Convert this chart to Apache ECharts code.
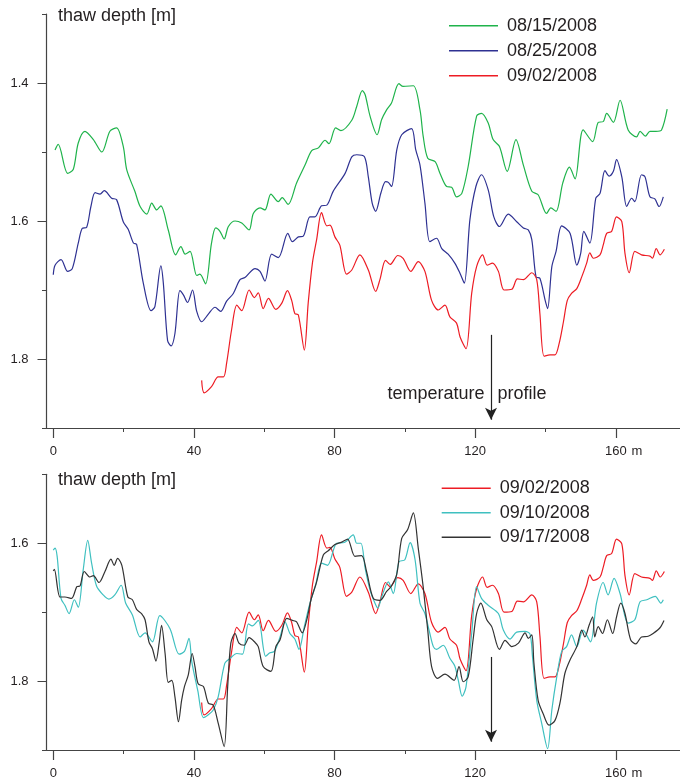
<!DOCTYPE html>
<html>
<head>
<meta charset="utf-8">
<script src="https://cdn.jsdelivr.net/npm/echarts@6/dist/echarts.min.js"></script>
<style>html,body{margin:0;padding:0;background:#fff}#c{width:680px;height:782px}</style>
</head>
<body>
<div id="c"></div>
<script>
// ---- data: [distance (m), thaw depth (m)] ----
const aug15 = [[0.5,1.497],[1.4,1.489],[4.1,1.531],[5.7,1.525],[7.1,1.487],[9.0,1.470],[11.4,1.482],[13.8,1.500],[16.1,1.470],[18.0,1.465],[19.9,1.492],[20.9,1.526],[23.2,1.557],[24.7,1.579],[26.6,1.590],[28.0,1.574],[29.4,1.584],[30.6,1.578],[32.7,1.613],[34.8,1.649],[36.3,1.637],[37.5,1.648],[38.9,1.644],[40.8,1.679],[41.7,1.677],[43.3,1.691],[45.0,1.632],[46.2,1.610],[47.4,1.615],[48.6,1.626],[49.8,1.608],[51.7,1.600],[53.6,1.603],[55.7,1.613],[56.9,1.589],[58.8,1.581],[60.2,1.584],[61.9,1.561],[64.0,1.572],[65.1,1.566],[66.8,1.576],[69.2,1.545],[71.6,1.519],[73.5,1.498],[75.4,1.494],[77.3,1.483],[78.4,1.488],[80.3,1.465],[81.8,1.469],[84.9,1.454],[86.3,1.434],[87.9,1.411],[88.7,1.417],[90.1,1.448],[92.1,1.475],[93.4,1.453],[94.8,1.439],[96.2,1.429],[98.3,1.401],[99.5,1.405],[102.4,1.404],[104.3,1.439],[105.2,1.477],[106.5,1.509],[108.6,1.514],[110.0,1.531],[111.9,1.550],[113.3,1.551],[114.7,1.565],[116.2,1.560],[118.0,1.521],[120.4,1.448],[121.8,1.444],[123.7,1.458],[125.1,1.482],[126.9,1.492],[129.1,1.528],[131.6,1.482],[133.7,1.519],[136.1,1.557],[137.9,1.562],[140.3,1.589],[141.5,1.581],[143.0,1.586],[144.9,1.545],[146.8,1.522],[148.4,1.539],[150.7,1.468],[153.4,1.485],[155.0,1.457],[156.4,1.456],[157.4,1.444],[159.3,1.457],[161.2,1.425],[163.5,1.468],[165.9,1.478],[166.9,1.470],[168.4,1.477],[169.7,1.470],[171.4,1.470],[173.0,1.468],[174.6,1.438]];
const aug25 = [[0,1.678],[0.5,1.664],[2.2,1.656],[4.1,1.673],[5.4,1.669],[7.1,1.632],[8.2,1.611],[9.5,1.609],[10.7,1.579],[11.9,1.559],[13.3,1.561],[14.5,1.556],[16.6,1.567],[18.0,1.569],[19.9,1.601],[21.3,1.612],[22.8,1.632],[23.7,1.634],[25.6,1.690],[27.8,1.730],[28.9,1.724],[30.6,1.665],[31.3,1.690],[32.5,1.773],[33.5,1.781],[34.6,1.763],[36.0,1.701],[37.0,1.707],[38.2,1.718],[39.6,1.700],[40.8,1.731],[42.2,1.746],[44.1,1.735],[46.0,1.725],[47.6,1.731],[49.3,1.716],[51.2,1.705],[53.1,1.685],[54.5,1.682],[57.4,1.669],[58.8,1.673],[60.2,1.687],[62.1,1.648],[64.0,1.653],[66.7,1.618],[68.0,1.630],[69.7,1.623],[71.1,1.622],[73.0,1.594],[74.4,1.594],[76.3,1.578],[77.8,1.577],[79.6,1.557],[83.0,1.531],[84.9,1.507],[86.3,1.504],[88.5,1.507],[89.6,1.536],[90.7,1.574],[91.7,1.586],[93.2,1.559],[94.5,1.543],[95.3,1.544],[96.2,1.550],[97.7,1.497],[99.1,1.475],[101.9,1.466],[103.1,1.497],[104.3,1.519],[105.7,1.574],[107.1,1.630],[109.0,1.625],[110.5,1.640],[112.3,1.648],[114.2,1.661],[115.7,1.676],[116.9,1.690],[118.5,1.598],[120.2,1.550],[121.8,1.533],[123.7,1.555],[125.3,1.594],[126.9,1.608],[129.4,1.590],[131.8,1.601],[133.7,1.610],[135.1,1.613],[136.1,1.627],[137.3,1.681],[138.4,1.683],[139.9,1.715],[140.6,1.727],[141.8,1.666],[143.0,1.644],[144.6,1.607],[147.0,1.618],[148.9,1.664],[150.0,1.647],[150.9,1.615],[152.6,1.632],[154.3,1.567],[155.5,1.560],[156.9,1.527],[158.1,1.535],[159.3,1.528],[160.2,1.511],[161.7,1.536],[163.1,1.579],[164.5,1.567],[165.4,1.572],[167.3,1.533],[168.3,1.536],[169.7,1.565],[171.1,1.568],[172.3,1.579],[173.5,1.565]];
const sep02 = [[42.2,1.831],[42.9,1.849],[45.0,1.840],[46.9,1.826],[48.4,1.826],[49.3,1.806],[50.7,1.758],[52.2,1.722],[53.6,1.730],[55.7,1.700],[57.2,1.711],[58.3,1.704],[59.7,1.727],[61.2,1.712],[63.3,1.728],[65.0,1.719],[66.6,1.701],[67.8,1.715],[68.7,1.734],[69.7,1.736],[71.4,1.787],[72.5,1.719],[73.7,1.661],[74.9,1.627],[76.3,1.588],[77.8,1.607],[78.7,1.606],[80.1,1.623],[81.5,1.635],[83.4,1.677],[84.9,1.671],[87.2,1.649],[89.6,1.671],[91.7,1.702],[92.9,1.685],[94.5,1.657],[95.8,1.663],[98.0,1.650],[99.5,1.654],[101.7,1.673],[103.8,1.659],[105.7,1.673],[107.6,1.715],[109.5,1.729],[111.4,1.722],[112.8,1.739],[114.7,1.748],[115.7,1.768],[117.4,1.785],[119.0,1.705],[120.4,1.666],[122.1,1.649],[123.4,1.664],[124.9,1.661],[126.6,1.673],[128.2,1.700],[130.4,1.699],[132.0,1.684],[133.7,1.685],[136.1,1.675],[137.5,1.685],[138.4,1.734],[139.6,1.796],[141.3,1.794],[142.7,1.794],[143.9,1.777],[145.1,1.746],[146.2,1.715],[147.4,1.705],[148.9,1.698],[150.3,1.681],[151.7,1.661],[152.6,1.646],[153.6,1.654],[155.5,1.649],[156.4,1.635],[157.4,1.618],[158.8,1.615],[160.2,1.594],[161.7,1.601],[162.6,1.647],[163.8,1.675],[165.4,1.644],[167.3,1.649],[169.7,1.651],[170.4,1.654],[171.5,1.640],[172.6,1.649],[173.8,1.641]];
const sep10 = [[0,1.610],[0.5,1.607],[1.1,1.619],[2.2,1.680],[3.3,1.690],[4.5,1.702],[6.0,1.682],[7.1,1.693],[8.5,1.639],[9.8,1.596],[10.9,1.629],[12.3,1.662],[14.2,1.675],[15.8,1.681],[17.5,1.675],[19.3,1.661],[20.6,1.687],[22.5,1.704],[24.7,1.736],[26.1,1.730],[28.2,1.743],[30.3,1.705],[33.2,1.724],[35.8,1.761],[37.3,1.757],[38.6,1.738],[39.4,1.772],[41.1,1.814],[42.7,1.853],[44.1,1.849],[45.5,1.842],[46.9,1.823],[48.8,1.774],[50.3,1.767],[52.2,1.760],[53.8,1.761],[55.5,1.717],[56.6,1.720],[58.3,1.712],[60.4,1.764],[61.6,1.759],[62.9,1.757],[64.5,1.736],[65.9,1.714],[67.3,1.731],[68.7,1.739],[69.9,1.754],[71.4,1.721],[73.0,1.687],[74.6,1.661],[76.3,1.629],[78.0,1.632],[80.6,1.600],[82.8,1.599],[85.3,1.588],[86.3,1.600],[87.5,1.600],[88.7,1.636],[90.1,1.668],[91.5,1.687],[92.3,1.694],[93.4,1.678],[95.3,1.656],[96.7,1.673],[98.3,1.627],[100.0,1.624],[101.5,1.599],[102.9,1.624],[104.3,1.687],[105.7,1.702],[107.1,1.731],[108.1,1.750],[109.0,1.754],[110.9,1.748],[112.8,1.767],[114.2,1.778],[115.2,1.799],[116.3,1.822],[117.4,1.808],[119.0,1.731],[120.4,1.663],[121.8,1.680],[123.7,1.690],[126.6,1.702],[128.0,1.726],[129.9,1.739],[131.8,1.729],[134.2,1.728],[135.6,1.732],[136.3,1.765],[137.5,1.828],[138.9,1.861],[140.6,1.898],[141.8,1.842],[143.2,1.794],[144.6,1.757],[146.0,1.750],[147.4,1.733],[148.9,1.750],[150.7,1.726],[152.8,1.743],[154.5,1.687],[156.4,1.657],[157.8,1.675],[159.5,1.651],[161.2,1.673],[163.5,1.716],[165.4,1.711],[166.9,1.685],[168.8,1.682],[171.2,1.677],[172.8,1.687],[173.5,1.682]];
const sep17 = [[0,1.640],[0.3,1.638],[1.9,1.678],[3.3,1.678],[5.2,1.680],[6.7,1.663],[7.6,1.662],[8.8,1.641],[10.4,1.649],[11.4,1.647],[13.0,1.657],[14.7,1.641],[16.4,1.623],[17.3,1.632],[18.3,1.622],[19.5,1.632],[21.2,1.678],[22.5,1.682],[23.7,1.696],[25.1,1.702],[26.1,1.711],[27.2,1.743],[28.2,1.753],[29.2,1.771],[30.1,1.745],[30.8,1.719],[31.8,1.760],[32.7,1.802],[33.7,1.799],[34.6,1.823],[35.6,1.859],[36.5,1.828],[37.3,1.808],[38.4,1.791],[39.5,1.760],[40.3,1.779],[41.2,1.804],[42.7,1.808],[44.1,1.832],[45.5,1.835],[46.9,1.861],[48.6,1.895],[49.6,1.808],[50.5,1.745],[51.7,1.731],[52.8,1.745],[54.3,1.748],[55.7,1.737],[57.4,1.744],[58.3,1.750],[59.7,1.779],[61.9,1.786],[63.3,1.750],[64.5,1.740],[66.4,1.709],[68.0,1.712],[69.2,1.714],[70.8,1.730],[72.1,1.711],[73.3,1.682],[74.9,1.656],[76.8,1.617],[78.2,1.611],[80.1,1.602],[82.2,1.598],[83.7,1.594],[85.8,1.619],[87.7,1.618],[89.1,1.641],[91.0,1.680],[92.9,1.683],[94.8,1.670],[96.2,1.662],[97.7,1.645],[99.1,1.593],[100.8,1.580],[102.4,1.556],[103.8,1.607],[105.2,1.663],[106.5,1.726],[107.6,1.779],[109.3,1.796],[111.4,1.790],[114.0,1.799],[115.4,1.779],[116.6,1.801],[118.0,1.794],[119.4,1.740],[120.4,1.702],[121.6,1.687],[123.3,1.711],[124.7,1.721],[126.9,1.754],[128.5,1.741],[130.4,1.750],[132.3,1.745],[134.2,1.730],[135.1,1.738],[136.1,1.733],[136.7,1.774],[137.9,1.828],[139.3,1.847],[141.0,1.864],[142.7,1.857],[144.1,1.832],[145.5,1.789],[146.9,1.770],[148.9,1.750],[150.3,1.726],[151.2,1.736],[152.4,1.719],[153.4,1.707],[154.0,1.736],[155.0,1.721],[156.2,1.731],[157.6,1.711],[159.1,1.731],[160.2,1.707],[161.4,1.687],[162.6,1.702],[164.2,1.740],[165.7,1.746],[167.3,1.736],[169.2,1.735],[170.6,1.731],[172.5,1.723],[173.7,1.712]];

const xMajorTicks = [0, 40, 80, 120, 160];
const xMinorTicks = [20, 60, 100, 140];
const xUnitAt = [166];
const yTopMajor = [1.4, 1.6, 1.8];
const yTopMinor = [1.3, 1.5, 1.7, 1.9];
const yBotMajor = [1.6, 1.8];
const yBotMinor = [1.5, 1.7, 1.9];
const PROFILE_X = 124.5;
const ARROW_FROM = 1.765, ARROW_TO = 1.888, PROFILE_TEXT_Y = 1.851;

const FONT = 'Liberation Sans, Arial, Helvetica, sans-serif';
const TXT = '#231f20';
const AX = '#444';
const C = {aug15:'#1fb34b', aug25:'#2e3192', sep02:'#ed1c24', sep10:'#3fc0c0', sep17:'#333333'};

function xAxes(grid) {
  return [
    {gridIndex:grid, type:'value', position:'bottom', min:-1.93, max:178.25,
     axisLine:{show:true, onZero:false, lineStyle:{color:AX, width:1.2}},
     axisTick:{show:true, customValues:xMajorTicks, length:10, lineStyle:{color:AX, width:1.2}},
     axisLabel:{show:true, customValues:xMajorTicks, margin:17, fontSize:13, color:TXT, fontFamily:FONT},
     splitLine:{show:false}},
    {gridIndex:grid, type:'value', position:'bottom', min:-1.93, max:178.25,
     axisLine:{show:false, onZero:false},
     axisTick:{show:true, customValues:xMinorTicks, length:4, lineStyle:{color:AX, width:1}},
     axisLabel:{show:true, customValues:xUnitAt, formatter:()=>'m', margin:17, fontSize:13, color:TXT, fontFamily:FONT},
     splitLine:{show:false}}
  ];
}
function yAxes(grid, min, major, minor) {
  return [
    {gridIndex:grid, type:'value', position:'left', inverse:true, min:min, max:1.9,
     axisLine:{show:true, onZero:false, lineStyle:{color:AX, width:1.2}},
     axisTick:{show:true, customValues:major, length:9, lineStyle:{color:AX, width:1}},
     axisLabel:{show:true, customValues:major, formatter:v=>Number(v).toFixed(1), margin:18, fontSize:13, color:TXT, fontFamily:FONT},
     splitLine:{show:false}},
    {gridIndex:grid, type:'value', position:'left', inverse:true, min:min, max:1.9,
     axisLine:{show:false, onZero:false},
     axisTick:{show:true, customValues:minor, length:4.5, lineStyle:{color:AX, width:1}},
     axisLabel:{show:false},
     splitLine:{show:false}}
  ];
}
function line(name, data, color, xi, yi, extra) {
  return Object.assign({name, type:'line', data, xAxisIndex:xi, yAxisIndex:yi,
    symbol:'none', showSymbol:false, smooth:0.3, color,
    lineStyle:{color, width:1.2}, animation:false, z:2}, extra || {});
}
function arrow() {
  return {silent:true, symbol:['none','arrow'], symbolSize:[9,12], animation:false,
    lineStyle:{color:'#222', width:1.2, type:'solid'}, label:{show:false},
    data:[[{coord:[PROFILE_X, ARROW_FROM]}, {coord:[PROFILE_X, ARROW_TO]}]]};
}
const profileText = {silent:true, animation:false,
  data:[
    {coord:[PROFILE_X, PROFILE_TEXT_Y], symbol:'circle', symbolSize:1, itemStyle:{color:'rgba(0,0,0,0)'},
     label:{show:true, formatter:'temperature', position:'left', distance:6, fontSize:18, color:TXT, fontFamily:FONT}},
    {coord:[PROFILE_X, PROFILE_TEXT_Y], symbol:'circle', symbolSize:1, itemStyle:{color:'rgba(0,0,0,0)'},
     label:{show:true, formatter:'profile', position:'right', distance:6, fontSize:18, color:TXT, fontFamily:FONT}}
  ]};

const legendCommon = {orient:'vertical', padding:0, itemWidth:49, itemHeight:1.4, icon:'rect',
  textStyle:{fontSize:18, lineHeight:18, color:TXT, fontFamily:FONT, padding:[0,0,0,4]}, selectedMode:false};

const option = {
  backgroundColor:'#fff',
  animation:false,
  textStyle:{fontFamily:FONT},
  title:[
    {text:'thaw depth [m]', left:58, top:7.5, padding:0, textStyle:{fontSize:18, fontWeight:'normal', color:TXT, fontFamily:FONT}},
    {text:'thaw depth [m]', left:58, top:471.5, padding:0, textStyle:{fontSize:18, fontWeight:'normal', color:TXT, fontFamily:FONT}}
  ],
  legend:[
    Object.assign({data:['08/15/2008','08/25/2008','09/02/2008'], left:449, top:16.7, itemGap:7}, legendCommon),
    Object.assign({data:['09/02/2008','09/10/2008','09/17/2008'], left:441.7, top:479.3, itemGap:6.5}, legendCommon)
  ],
  grid:[
    {left:46.5, top:14, width:633.5, height:414},
    {left:46.5, top:474.3, width:633.5, height:275.7}
  ],
  xAxis:[].concat(xAxes(0), xAxes(1)),
  yAxis:[].concat(yAxes(0, 1.3, yTopMajor, yTopMinor), yAxes(1, 1.5, yBotMajor, yBotMinor)),
  series:[
    line('08/15/2008', aug15, C.aug15, 0, 0),
    line('08/25/2008', aug25, C.aug25, 0, 0),
    line('09/02/2008', sep02, C.sep02, 0, 0, {markLine:arrow(), markPoint:profileText}),
    line('09/02/2008', sep02, C.sep02, 2, 2, {markLine:arrow()}),
    line('09/10/2008', sep10, C.sep10, 2, 2),
    line('09/17/2008', sep17, C.sep17, 2, 2)
  ]
};
const chart = echarts.init(document.getElementById('c'), null, {renderer:'canvas'});
chart.setOption(option);
</script>
</body>
</html>
